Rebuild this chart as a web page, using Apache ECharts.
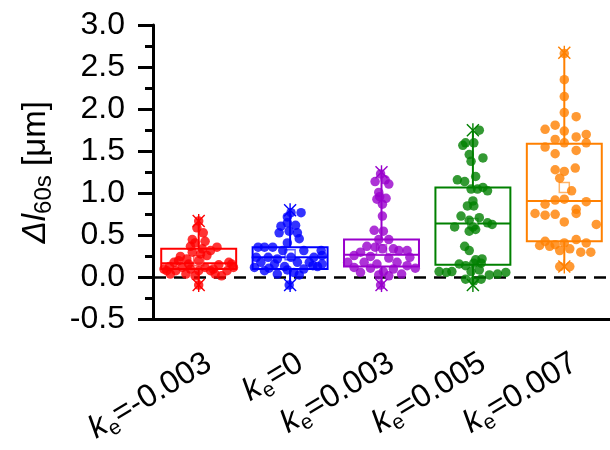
<!DOCTYPE html>
<html><head><meta charset="utf-8">
<script src="https://cdn.jsdelivr.net/npm/echarts@6/dist/echarts.min.js"></script>
<style>html,body{margin:0;padding:0;background:#fff}#c{width:610px;height:450px}</style>
</head><body><div id="c"></div>
<script>
// ---- data ----
const categories = ['-0.003', '0', '0.003', '0.005', '0.007'];
const yMin = -0.5, yMax = 3.0, yStep = 0.5;
const refLine = 0;

const boxMin    = [-0.09, -0.09, -0.09, -0.09, 0.13];
const boxQ1     = [0.10, 0.10, 0.13, 0.15, 0.43];
const boxMedian = [0.17, 0.24, 0.27, 0.64, 0.91];
const boxQ3     = [0.34, 0.36, 0.45, 1.07, 1.59];
const boxMax    = [0.67, 0.80, 1.25, 1.75, 2.67];
const boxMean   = [0.20, 0.27, 0.33, 0.64, 1.07];

// [horizontal jitter (in category widths), value]
const pointsM003 = [[0,0.67],[-0.02,0.59],[0.05,0.53],[-0.07,0.45],[-0.04,0.41],[0.07,0.43],[-0.09,0.37],[0.20,0.36],[0.13,0.32],[-0.20,0.25],[-0.13,0.22],[0,0.20],[0.09,0.26],[0.33,0.18],[-0.38,0.10],[-0.32,0.13],[-0.25,0.08],[-0.18,0.12],[-0.09,0.10],[0,0.08],[0.07,0.12],[0.16,0.10],[0.25,0.02],[0.38,0.12],[0.31,0.08],[-0.31,0.04],[-0.14,0.04],[-0.04,0.02],[0.18,0.04],[0,-0.09],[-0.27,0.18],[-0.07,0.30],[0.04,0.34],[0.36,0.16],[-0.22,0.20],[0.02,0.28],[-0.11,0.16],[0.22,0.15],[0.13,0.08],[-0.35,0.08]];
const points0 = [[0.01,0.77],[0.12,0.77],[-0.03,0.72],[-0.10,0.61],[-0.03,0.65],[0.06,0.62],[-0.12,0.53],[-0.01,0.55],[0.08,0.53],[0.10,0.46],[-0.03,0.41],[-0.35,0.36],[-0.28,0.36],[-0.19,0.36],[-0.08,0.32],[0.15,0.32],[0.34,0.32],[-0.37,0.24],[-0.24,0.24],[-0.14,0.22],[0.01,0.24],[0.26,0.24],[0.35,0.26],[-0.32,0.18],[-0.17,0.16],[0.08,0.18],[0.21,0.18],[-0.39,0.12],[-0.23,0.11],[-0.06,0.13],[0.15,0.10],[0.30,0.13],[-0.03,0.09],[-0.14,0.04],[0.04,0.06],[0.35,0.16],[-0.28,0.08],[-0.01,-0.09],[0.25,0.14],[0.10,0.03]];
const points003 = [[-0.01,1.23],[-0.07,1.14],[0.04,1.16],[0.08,1.11],[-0.03,1.01],[-0.02,0.96],[-0.05,0.93],[0.05,0.94],[0.01,0.87],[0.01,0.73],[-0.08,0.56],[0.02,0.55],[-0.03,0.45],[0.08,0.45],[-0.16,0.37],[-0.07,0.36],[0.01,0.34],[0.13,0.34],[0.19,0.32],[-0.23,0.30],[0.28,0.32],[-0.30,0.26],[-0.12,0.25],[0.08,0.23],[0.31,0.24],[-0.37,0.18],[-0.19,0.18],[0.17,0.18],[-0.05,0.16],[0.28,0.14],[-0.30,0.12],[-0.12,0.11],[0.13,0.10],[0.37,0.11],[-0.23,0.06],[0.02,0.07],[0.22,0.04],[-0.03,0.03],[0.08,0.02],[-0.01,-0.09]];
const points005 = [[0.07,1.75],[-0.08,1.60],[0.01,1.60],[-0.11,1.57],[-0.04,1.46],[0.11,1.42],[-0.02,1.38],[0.03,1.20],[-0.17,1.16],[-0.09,1.14],[-0.02,1.05],[0.05,1.05],[0.11,1.07],[0.16,1.03],[-0.06,0.85],[0.01,0.85],[0,0.91],[-0.13,0.73],[0.07,0.71],[-0.04,0.68],[0.16,0.65],[0.21,0.63],[-0.20,0.60],[0,0.60],[-0.04,0.55],[0.03,0.57],[-0.09,0.37],[-0.04,0.32],[0.03,0.21],[0.10,0.22],[0.09,0.17],[0.01,0.17],[-0.15,0.16],[-0.08,0.14],[-0.37,0.07],[-0.29,0.06],[-0.23,0.07],[-0.02,0.07],[0.07,0.09],[0.18,0.03],[0.27,0.04],[0.36,0.06],[-0.08,-0.02],[0.01,-0.04],[0.09,-0.02]];
const points007 = [[0,2.66],[0,2.35],[0,2.15],[0,1.96],[0.13,1.91],[-0.10,1.81],[-0.21,1.76],[0,1.74],[-0.10,1.64],[0.13,1.67],[0.24,1.70],[0,1.60],[0.24,1.60],[-0.21,1.55],[0.13,1.51],[-0.10,1.47],[0.12,1.30],[-0.10,1.28],[0,1.26],[-0.05,1.18],[0.08,1.03],[0,0.93],[-0.10,0.92],[-0.21,0.87],[0.24,0.90],[0.13,0.81],[0.13,0.76],[-0.32,0.76],[-0.21,0.74],[-0.10,0.75],[0,0.66],[0.35,0.63],[-0.27,0.38],[-0.21,0.43],[-0.16,0.37],[-0.10,0.39],[0,0.41],[0.13,0.45],[0.24,0.41],[-0.05,0.32],[0.06,0.34],[0.18,0.30],[0.29,0.30],[-0.05,0.13],[0.06,0.13]];

// ---- style ----
const colors = ['#ff0000', '#0000ff', '#9900cc', '#008000', '#ff8000'];
const FONT = '"Liberation Sans", Arial, sans-serif';
const BOX_W = 0.82;

const groups = [pointsM003, points0, points003, points005, points007];
const boxData = categories.map((c, i) => [i, boxMin[i], boxQ1[i], boxMedian[i], boxQ3[i], boxMax[i], boxMean[i]]);

function renderBox(params, api) {
  const i = api.value(0);
  const col = colors[i];
  const x = i + 0.5;
  const pMin = api.coord([x, api.value(1)]);
  const pQ1 = api.coord([x, api.value(2)]);
  const pMed = api.coord([x, api.value(3)]);
  const pQ3 = api.coord([x, api.value(4)]);
  const pMax = api.coord([x, api.value(5)]);
  const pMean = api.coord([x, api.value(6)]);
  const w = api.size([BOX_W, 0])[0];
  const st = { stroke: col, lineWidth: 2, fill: null };
  const children = [
    { type: 'line', shape: { x1: pQ3[0], y1: pQ3[1], x2: pMax[0], y2: pMax[1] }, style: st },
    { type: 'line', shape: { x1: pQ1[0], y1: pQ1[1], x2: pMin[0], y2: pMin[1] }, style: st },
    { type: 'rect', shape: { x: pQ3[0] - w / 2, y: pQ3[1], width: w, height: pQ1[1] - pQ3[1] }, style: st },
    { type: 'line', shape: { x1: pMed[0] - w / 2, y1: pMed[1], x2: pMed[0] + w / 2, y2: pMed[1] }, style: st },
    { type: 'rect', shape: { x: pMean[0] - 5, y: pMean[1] - 5, width: 10, height: 10 }, style: { stroke: col, lineWidth: 1.5, fill: '#fff', opacity: 0.6 } }
  ];
  if (params.dataIndex === 0) {
    const a = api.coord([0, refLine]);
    const b = api.coord([categories.length, refLine]);
    children.unshift({ type: 'line', shape: { x1: a[0] + 1, y1: a[1], x2: b[0], y2: b[1] },
      style: { stroke: '#000', lineWidth: 2.5, lineDash: [12, 8] } });
  }
  return { type: 'group', children };
}

function star(p, col) {
  const s = 7, d = 6;
  const st = { stroke: col, lineWidth: 1.4 };
  return [
    { type: 'line', shape: { x1: p[0], y1: p[1] - s, x2: p[0], y2: p[1] + s }, style: st },
    { type: 'line', shape: { x1: p[0] - d, y1: p[1] - d, x2: p[0] + d, y2: p[1] + d }, style: st },
    { type: 'line', shape: { x1: p[0] - d, y1: p[1] + d, x2: p[0] + d, y2: p[1] - d }, style: st }
  ];
}
function renderStars(params, api) {
  const i = api.value(0);
  const x = i + 0.5;
  const col = colors[i];
  return { type: 'group', children: star(api.coord([x, api.value(1)]), col).concat(star(api.coord([x, api.value(5)]), col)) };
}

const series = [
  { type: 'custom', xAxisIndex: 1, yAxisIndex: 0, renderItem: renderBox, data: boxData, z: 2 }
];
groups.forEach((g, i) => {
  series.push({
    type: 'scatter', xAxisIndex: 1, yAxisIndex: 0, z: 3,
    symbol: 'circle', symbolSize: 9.5,
    itemStyle: { color: colors[i] },
    data: g.map(p => [i + 0.5 + p[0], p[1]])
  });
});
series.push({ type: 'custom', xAxisIndex: 1, yAxisIndex: 0, renderItem: renderStars, data: boxData, z: 4 });

const chart = echarts.init(document.getElementById('c'), null, { renderer: 'canvas' });
chart.setOption({
  animation: false,
  backgroundColor: '#fff',
  grid: { left: 153, top: 25, width: 461, height: 295.5, containLabel: false },
  xAxis: [
    {
      type: 'category', data: categories, boundaryGap: true, position: 'bottom',
      axisLine: { onZero: false, lineStyle: { color: '#000', width: 3 } },
      axisTick: { alignWithLabel: true, length: 16, lineStyle: { color: '#000', width: 3 } },
      axisLabel: {
        rotate: 31, margin: 24, align: 'right', verticalAlign: 'top', interval: 0,
        formatter: v => '{k|k}{e|e}{t|=' + v + '}',
        rich: {
          k: { fontFamily: FONT, fontSize: 32, fontStyle: 'italic', color: '#000', lineHeight: 40 },
          e: { fontFamily: FONT, fontSize: 21, color: '#000', verticalAlign: 'bottom', lineHeight: 16 },
          t: { fontFamily: FONT, fontSize: 32, color: '#000', lineHeight: 40 }
        }
      },
      splitLine: { show: false }
    },
    { type: 'value', min: 0, max: categories.length, show: false, axisLine: { onZero: false } }
  ],
  yAxis: {
    type: 'value', min: yMin, max: yMax, interval: yStep,
    axisLine: { show: true, onZero: false, lineStyle: { color: '#000', width: 3 } },
    axisTick: { show: true, length: 15, lineStyle: { color: '#000', width: 3 } },
    minorTick: { show: true, splitNumber: 2, length: 8, lineStyle: { color: '#000', width: 3 } },
    axisLabel: { margin: 28, fontFamily: FONT, fontSize: 32, color: '#000', formatter: v => v.toFixed(1) },
    splitLine: { show: false },
    name: '{d|Δl}{s|60s}{u| [μm]}',
    nameLocation: 'middle', nameRotate: 90, nameGap: 97,
    nameTextStyle: {
      rich: {
        d: { fontFamily: FONT, fontSize: 33, fontStyle: 'italic', color: '#000', lineHeight: 40 },
        s: { fontFamily: FONT, fontSize: 24, color: '#000', verticalAlign: 'bottom', lineHeight: 18 },
        u: { fontFamily: FONT, fontSize: 33, color: '#000', lineHeight: 40 }
      }
    }
  },
  series: series
});
</script>
</body></html>
